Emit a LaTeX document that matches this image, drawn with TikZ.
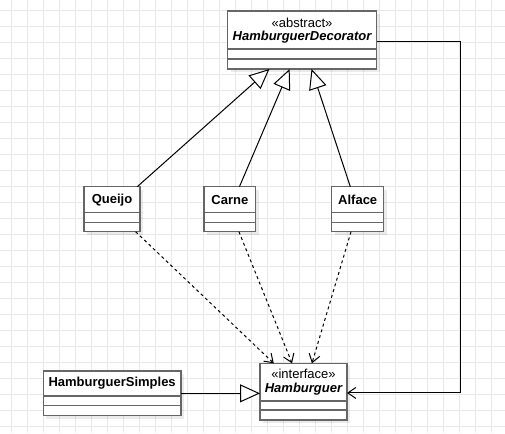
\documentclass[tikz,border=0pt]{standalone}
\usepackage{fontspec}
\setmainfont{Liberation Sans}
\usetikzlibrary{arrows.meta, calc, shadows}

\begin{document}
\begin{tikzpicture}[x=1pt, y=-1pt,
        gridline/.style={draw=black!9, line width=1pt},
        classbox/.style={draw=black!60, line width=1.5pt, fill=white, inner sep=0pt, outer sep=0pt, anchor=north west,
            drop shadow={shadow xshift=3pt, shadow yshift=-3pt, fill=black, opacity=0.08}},
        sepline/.style={draw=black!60, line width=1.5pt},
        classname/.style={font=\fontsize{13}{15}\selectfont\bfseries},
        absname/.style={font=\fontsize{13}{15}\selectfont\bfseries\itshape},
        stereo/.style={font=\fontsize{13}{15}\selectfont},
        inherit/.style={draw=black, line width=1pt, -{Triangle[open, length=20pt, width=18pt, fill=white]}},
        realize/.style={draw=black, line width=1pt, dash pattern=on 3pt off 3pt, -{Straight Barb[length=8pt, width=11pt]}},
        assoc/.style={draw=black, line width=1pt, -{Straight Barb[length=8pt, width=11pt]}}]
        \useasboundingbox (0,0) rectangle (505,433);
        \fill[white] (0,0) rectangle (505,433);
        \foreach \gx in {11.5,27.5,...,505} \draw[gridline] (\gx,0) -- (\gx,433);
        \foreach \gy in {10.5,26.5,...,433} \draw[gridline] (0,\gy) -- (505,\gy);

        \node[classbox, minimum width=149pt, minimum height=58pt] (decorator) at (227.5,11) {};
        \node[stereo] at ($(decorator.north)+(0,11.7)$) {«abstract»};
        \node[absname] at ($(decorator.north)+(0,26)$) {HamburguerDecorator};
        \draw[sepline] ($(decorator.north west)+(0,38)$) -- ($(decorator.north east)+(0,38)$);
        \draw[sepline] ($(decorator.north west)+(0,48)$) -- ($(decorator.north east)+(0,48)$);

        \node[classbox, minimum width=56pt, minimum height=45pt] (queijo) at (84,186.7) {};
        \node[classname] at ($(queijo.north)+(0,13)$) {Queijo};
        \draw[sepline] ($(queijo.north west)+(0,25.6)$) -- ($(queijo.north east)+(0,25.6)$);
        \draw[sepline] ($(queijo.north west)+(0,35.6)$) -- ($(queijo.north east)+(0,35.6)$);

        \node[classbox, minimum width=51.7pt, minimum height=45pt] (carne) at (204,186.7) {};
        \node[classname] at ($(carne.north)+(0,13)$) {Carne};
        \draw[sepline] ($(carne.north west)+(0,25.6)$) -- ($(carne.north east)+(0,25.6)$);
        \draw[sepline] ($(carne.north west)+(0,35.6)$) -- ($(carne.north east)+(0,35.6)$);

        \node[classbox, minimum width=52pt, minimum height=45pt] (alface) at (331.7,186.7) {};
        \node[classname] at ($(alface.north)+(0,13)$) {Alface};
        \draw[sepline] ($(alface.north west)+(0,25.6)$) -- ($(alface.north east)+(0,25.6)$);
        \draw[sepline] ($(alface.north west)+(0,35.6)$) -- ($(alface.north east)+(0,35.6)$);

        \node[classbox, minimum width=137.7pt, minimum height=44.7pt] (simples) at (43.3,371) {};
        \node[classname] at ($(simples.north)+(0,12.3)$) {HamburguerSimples};
        \draw[sepline] ($(simples.north west)+(0,25)$) -- ($(simples.north east)+(0,25)$);
        \draw[sepline] ($(simples.north west)+(0,34.7)$) -- ($(simples.north east)+(0,34.7)$);

        \node[classbox, minimum width=87pt, minimum height=56.7pt] (hamb) at (260,363.3) {};
        \node[stereo] at ($(hamb.north)+(0,10.5)$) {«interface»};
        \node[absname] at ($(hamb.north)+(0,25.5)$) {Hamburguer};
        \draw[sepline] ($(hamb.north west)+(0,37.7)$) -- ($(hamb.north east)+(0,37.7)$);
        \draw[sepline] ($(hamb.north west)+(0,46.7)$) -- ($(hamb.north east)+(0,46.7)$);

        \draw[inherit] (queijo) -- (decorator);
        \draw[inherit] (carne) -- (decorator);
        \draw[inherit] (alface) -- (decorator);
        \draw[realize] (queijo) -- (hamb);
        \draw[realize] (carne) -- (hamb);
        \draw[realize] (alface) -- (hamb);
        \draw[inherit] (simples.east) -- (simples.east -| hamb.west);
        \draw[assoc] ($(decorator.east)+(0,1.5)$) -- ++(83.5,0) |- ($(hamb.east)+(0,1.3)$);
    \end{tikzpicture}
\end{document}
